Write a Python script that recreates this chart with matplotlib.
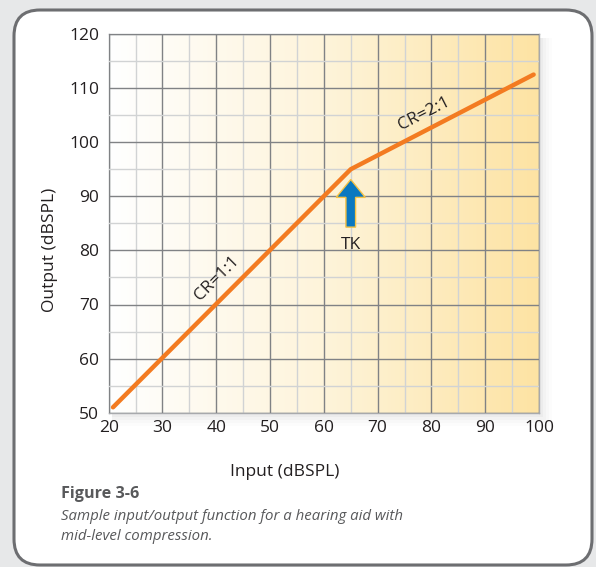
import numpy as np
import matplotlib
matplotlib.use("Agg")
import matplotlib.pyplot as plt
from matplotlib.patches import FancyBboxPatch, FancyArrow, Rectangle
from matplotlib.colors import LinearSegmentedColormap

plt.rcParams.update({
    "font.family": ["Open Sans", "DejaVu Sans"],
    "xtick.labelsize": 12.5,
    "ytick.labelsize": 12.5,
})

# ── Data ─────────────────────────────────────────────────────────────────────
input_db = [20.8, 65, 99]       # input level (dBSPL)
output_db = [51, 95, 112.5]     # output level (dBSPL)
x_ticks = [20, 30, 40, 50, 60, 70, 80, 90, 100]
y_ticks = [50, 60, 70, 80, 90, 100, 110, 120]
knee_x = 65

TEXT = "#231f20"
ORANGE = "#f37b21"

W, H = 596, 567
fig = plt.figure(figsize=(W / 100, H / 100), dpi=100, facecolor="#e7e8e9")

# background panel with rounded border (pixel coordinates)
bg = fig.add_axes([0, 0, 1, 1], zorder=0)
bg.set_xlim(0, W)
bg.set_ylim(H, 0)
bg.axis("off")
bg.add_patch(FancyBboxPatch((14, 10), W - 14 - 4, H - 10 - 2,
                            boxstyle="round,pad=0,rounding_size=26",
                            facecolor="white", edgecolor="#6d6e71", linewidth=2.2))
# soft shadow behind plot area
for i, a in enumerate([0.05, 0.04, 0.03, 0.02]):
    bg.add_patch(Rectangle((112, 38), 428 + 3 * (i + 1), 376 + 3 * (i + 1),
                           facecolor="#808285", alpha=a, edgecolor="none"))

ax = fig.add_axes([108.7 / W, 1 - 412.7 / H, (539 - 108.7) / W, (412.7 - 34) / H], zorder=1)
ax.set_xlim(20, 100)
ax.set_ylim(50, 120)

# horizontal white -> pale gold gradient
cmap = LinearSegmentedColormap.from_list("g", ["#ffffff", "#fef4da", "#fde3a3"])
ax.imshow(np.linspace(0, 1, 256)[None, :], cmap=cmap, extent=[20, 100, 50, 120],
          aspect="auto", zorder=0, interpolation="bicubic")

ax.set_xticks(x_ticks)
ax.set_yticks(y_ticks)
ax.set_xticks(np.arange(25, 100, 10), minor=True)
ax.set_yticks(np.arange(55, 120, 10), minor=True)
ax.grid(which="minor", color="#d1d3d4", linewidth=1.0, zorder=1)
ax.grid(which="major", color="#808285", linewidth=1.0, zorder=1)
ax.set_axisbelow(False)
for s in ax.spines.values():
    s.set_color("#a7a9ac")
    s.set_linewidth(1.0)
ax.tick_params(which="both", length=0, colors=TEXT)
ax.tick_params(axis="y", pad=7)
ax.tick_params(axis="x", pad=5)

ax.plot(input_db, output_db, color=ORANGE, linewidth=3.2,
        solid_capstyle="round", solid_joinstyle="round", zorder=4)

ax.text(40.2, 74.8, "CR=1:1", rotation=45, ha="center", va="center",
        fontsize=12.5, color=TEXT, zorder=5)
ax.text(78.6, 105.2, "CR=2:1", rotation=27, ha="center", va="center",
        fontsize=12.5, color=TEXT, zorder=5)

ax.add_patch(FancyArrow(knee_x, 84.3, 0, 8.8, width=1.8, head_width=5.4,
                        head_length=3.3, length_includes_head=True,
                        facecolor="#0a78c0", edgecolor="#f6c244", linewidth=1.0, zorder=5))
ax.text(knee_x, 81.0, "TK", ha="center", va="center", fontsize=12.5, color=TEXT, zorder=5)

fig.text(50 / W, 1 - 250 / H, "Output (dBSPL)", rotation=90, ha="center", va="center",
         fontsize=12.5, color=TEXT)
fig.text(285 / W, 1 - 472 / H, "Input (dBSPL)", ha="center", va="center",
         fontsize=12.5, color=TEXT)
fig.text(61 / W, 1 - 494 / H, "Figure 3-6", ha="left", va="center",
         fontsize=11.6, fontweight="bold", color="#58595b")
fig.text(61 / W, 1 - 516 / H, "Sample input/output function for a hearing aid with",
         ha="left", va="center", fontsize=10.85, style="italic", color="#58595b")
fig.text(61 / W, 1 - 537 / H, "mid-level compression.",
         ha="left", va="center", fontsize=10.85, style="italic", color="#58595b")

fig.savefig("out.png", dpi=100, facecolor=fig.get_facecolor())
